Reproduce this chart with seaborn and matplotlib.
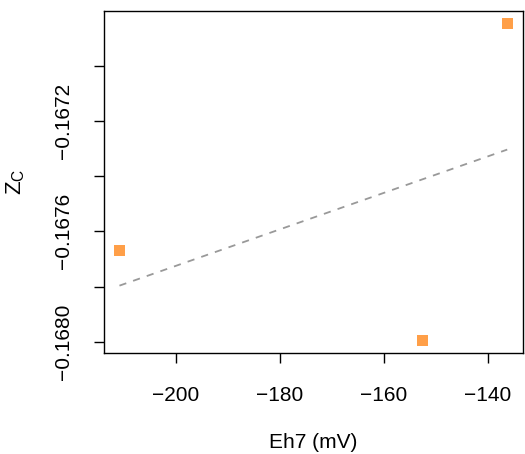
import numpy as np
import pandas as pd
import matplotlib
matplotlib.use("Agg")
import matplotlib.pyplot as plt
import seaborn as sns

# Data
eh7 = [-210.85, -152.5, -136.3]
zc = [-0.16767, -0.167994, -0.166847]
xticks = [-200, -180, -160, -140]
yticks = [-0.1680, -0.1678, -0.1676, -0.1674, -0.1672, -0.1670]
ylabels = ["\u22120.1680", "", "\u22120.1676", "", "\u22120.1672", ""]

df = pd.DataFrame({"eh7": eh7, "zc": zc})

sns.set_style("ticks")
plt.rcParams["font.family"] = ["Liberation Sans", "DejaVu Sans"]
plt.rcParams["mathtext.fontset"] = "custom"
plt.rcParams["mathtext.rm"] = "Liberation Sans"
plt.rcParams["axes.unicode_minus"] = True
plt.rcParams["text.color"] = "black"
plt.rcParams["axes.labelcolor"] = "black"
plt.rcParams["xtick.color"] = "black"
plt.rcParams["ytick.color"] = "black"

fig = plt.figure(figsize=(5.25, 4.54), dpi=100)
ax = fig.add_axes([0.198, 0.2231, 0.7977, 0.7527])

sns.regplot(data=df, x="eh7", y="zc", ax=ax, ci=None, scatter=False,
            truncate=True,
            line_kws={"color": "#999999", "linestyle": (0, (4, 4)), "linewidth": 1.3})
sns.scatterplot(data=df, x="eh7", y="zc", ax=ax, marker="s", s=62,
                color="#FF9F48", edgecolor="none", zorder=3)

# R-style 4% padding
xr = max(eh7) - min(eh7)
yr = max(zc) - min(zc)
ax.set_xlim(min(eh7) - 0.04 * xr, max(eh7) + 0.04 * xr)
ax.set_ylim(min(zc) - 0.04 * yr, max(zc) + 0.04 * yr)

ax.set_xticks(xticks)
ax.set_xticklabels(["\u2212%d" % abs(v) for v in xticks])
ax.set_yticks(yticks)
ax.set_yticklabels(ylabels, rotation=90, va="center")

ax.tick_params(axis="both", length=7, width=1.0, color="black",
               labelsize=15, labelcolor="black")
ax.tick_params(axis="x", pad=17)
ax.tick_params(axis="y", pad=15)
for s in ax.spines.values():
    s.set_linewidth(1.0)
    s.set_color("black")

ax.set_xlabel("Eh7 (mV)", fontsize=15, labelpad=20)
ax.set_ylabel(r"$\mathrm{Z}_\mathrm{C}$", fontsize=16, labelpad=20)

fig.savefig("out.png", dpi=100)
